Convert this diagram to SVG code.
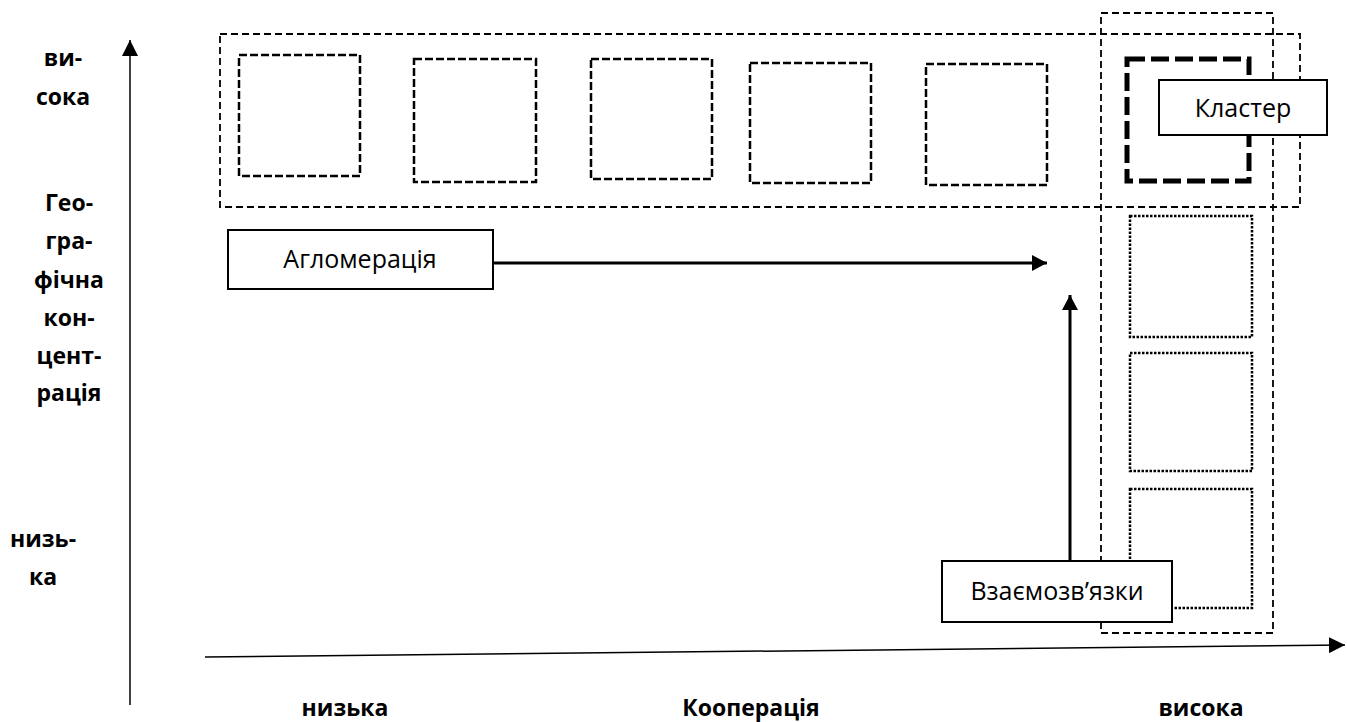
<svg xmlns="http://www.w3.org/2000/svg" width="1347" height="722" viewBox="0 0 1347 722">
<style>
.bg{fill:#fff}
.outer{fill:none;stroke:#000;stroke-width:1.8;stroke-dasharray:7 4}
.inner{fill:none;stroke:#000;stroke-width:2.5;stroke-dasharray:8 3}
.thick{fill:none;stroke:#000;stroke-width:5;stroke-dasharray:18 6}
.dot{fill:none;stroke:#000;stroke-width:2.5;stroke-dasharray:2.5 1.5}
.lbl{fill:#fff;stroke:#000;stroke-width:2}
.t{font-family:"Open Sans","Liberation Sans",sans-serif;font-size:25px;fill:#000;text-anchor:middle}
.b{font-family:"Open Sans","Liberation Sans",sans-serif;font-size:23px;font-weight:bold;fill:#000;text-anchor:middle}
.axis{stroke:#000;stroke-width:1.5;fill:none}
.conn{stroke:#000;stroke-width:3;fill:none}
</style>
<defs>
<marker id="ah" markerWidth="16" markerHeight="16" refX="15" refY="8" orient="auto" markerUnits="userSpaceOnUse">
<path d="M0,0 L15,8 L0,16 Z" fill="#000"/>
</marker>
<marker id="ax" markerWidth="17" markerHeight="16" refX="16" refY="8" orient="auto" markerUnits="userSpaceOnUse">
<path d="M0,0 L16,8 L0,16 Z" fill="#000"/>
</marker>
</defs>
<rect class="bg" x="0" y="0" width="1347" height="722"/>

<g id="axes">
<line class="axis" x1="130" y1="705" x2="130" y2="40" marker-end="url(#ax)"/>
<line class="axis" x1="205" y1="657" x2="1345" y2="645" marker-end="url(#ax)"/>
</g>

<g id="axis-labels">
<text class="b" x="63" y="66">ви-</text>
<text class="b" x="63" y="105">сока</text>
<text class="b" x="69" y="211">Гео-</text>
<text class="b" x="69" y="249">гра-</text>
<text class="b" x="69" y="288">фічна</text>
<text class="b" x="69" y="326">кон-</text>
<text class="b" x="69" y="364">цент-</text>
<text class="b" x="69" y="401">рація</text>
<text class="b" x="43" y="547">низь-</text>
<text class="b" x="43" y="585">ка</text>
<text class="b" x="345" y="716">низька</text>
<text class="b" x="751" y="716">Кооперація</text>
<text class="b" x="1201" y="716">висока</text>
</g>

<g id="agglomeration-zone">
<rect class="outer" x="220" y="34" width="1080" height="173"/>
</g>
<g id="linkage-zone">
<rect class="outer" x="1101" y="13" width="172" height="620"/>
</g>

<g id="firm1"><rect class="inner" x="239" y="55" width="121" height="121"/></g>
<g id="firm2"><rect class="inner" x="414" y="59" width="122" height="123"/></g>
<g id="firm3"><rect class="inner" x="591" y="59" width="121" height="120"/></g>
<g id="firm4"><rect class="inner" x="750" y="63" width="121" height="120"/></g>
<g id="firm5"><rect class="inner" x="926" y="64" width="121" height="121"/></g>
<g id="cluster-box"><rect class="thick" x="1127" y="59" width="122" height="122"/></g>

<g id="partner1"><rect class="dot" x="1130" y="216" width="122" height="121"/></g>
<g id="partner2"><rect class="dot" x="1130" y="353" width="122" height="118"/></g>
<g id="partner3"><rect class="dot" x="1130" y="489" width="122" height="119"/></g>

<g id="connectors">
<line class="conn" x1="493" y1="263" x2="1047" y2="263" marker-end="url(#ah)"/>
<line class="conn" x1="1070" y1="561" x2="1070" y2="295" marker-end="url(#ah)"/>
</g>

<g id="cluster-label">
<rect class="lbl" x="1159" y="80" width="168" height="55"/>
<text class="t" x="1243" y="117">Кластер</text>
</g>
<g id="agglomeration-label">
<rect class="lbl" x="228" y="230" width="265" height="59"/>
<text class="t" x="360" y="268">Агломерація</text>
</g>
<g id="linkage-label">
<rect class="lbl" x="942" y="561" width="230" height="61"/>
<text class="t" x="1057" y="600">Взаємозв’язки</text>
</g>
</svg>
